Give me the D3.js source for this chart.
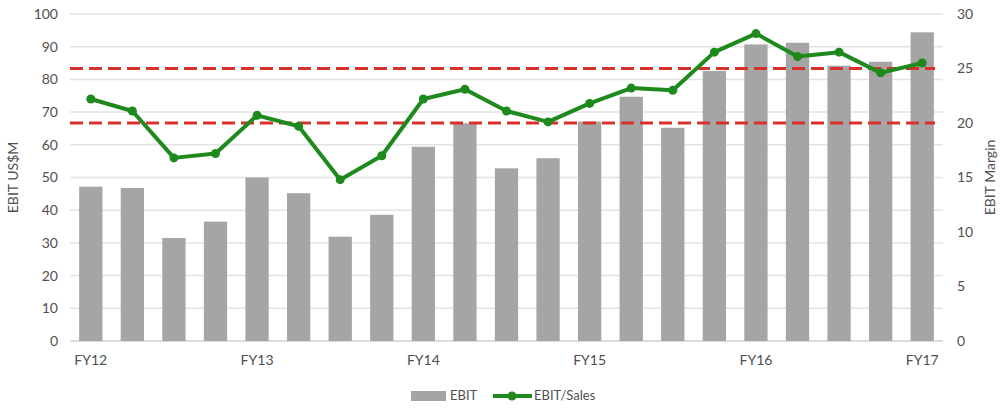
<!DOCTYPE html>
<html>
	<head>
		<meta charset="utf-8"/>
		<script type="text/javascript" src="https://cdn.jsdelivr.net/npm/d3@7/dist/d3.min.js"></script>
		<style>
			body { margin:0; background:#fff; }
			text { font-family: Lato, "Open Sans", sans-serif; fill:#505050; }
			.tick text { font-size:14px; }
			.axis-title { font-size:14px; }
			.legend text { font-size:13px; }
		</style>
	</head>
	<body>
		<script>
			var periods = d3.range(21);
			var periodLabels = ["FY12","","","","FY13","","","","FY14","","","","FY15","","","","FY16","","","","FY17"];
			var ebit = [47.2, 46.8, 31.5, 36.5, 50.0, 45.2, 31.9, 38.6, 59.4, 66.6, 52.8,
				55.9, 67.1, 74.7, 65.2, 82.6, 90.7, 91.2, 84.2, 85.4, 94.4];
			var margin = [22.2, 21.1, 16.8, 17.2, 20.7, 19.7, 14.8, 17.0, 22.2, 23.1, 21.1,
				20.1, 21.8, 23.2, 23.0, 26.5, 28.2, 26.1, 26.5, 24.6, 25.5];
			var targets = [25, 20];
			var leftTicks = d3.range(0, 101, 10);
			var rightTicks = d3.range(0, 31, 5);

			var width = 1000, height = 409;
			var plotLeft = 70, plotRight = 943, plotTop = 14, plotBottom = 341;

			var svg = d3.select("body").append("svg")
				.attr("width", width)
				.attr("height", height);

			var x = d3.scaleBand().domain(periods).range([plotLeft, plotRight]).paddingInner(0.44).paddingOuter(0.22);
			var yL = d3.scaleLinear().domain([0, 100]).range([plotBottom, plotTop]);
			var yR = d3.scaleLinear().domain([0, 30]).range([plotBottom, plotTop]);

			// gridlines
			svg.append("g")
				.selectAll("line").data(leftTicks).join("line")
				.attr("x1", plotLeft).attr("x2", plotRight)
				.attr("y1", d => yL(d)).attr("y2", d => yL(d))
				.attr("stroke", d => d == 0 ? "#d0d0d0" : "#e3e3e3")
				.attr("stroke-width", 1.5);

			var gl = svg.append("g")
				.attr("transform", "translate(" + (plotLeft - 8) + ",0)")
				.call(d3.axisLeft(yL).tickValues(leftTicks).tickSize(0).tickPadding(4));
			gl.select(".domain").remove();

			var gr = svg.append("g")
				.attr("transform", "translate(" + (plotRight + 10) + ",0)")
				.call(d3.axisRight(yR).tickValues(rightTicks).tickSize(0).tickPadding(4));
			gr.select(".domain").remove();

			var gx = svg.append("g")
				.attr("transform", "translate(0," + (plotBottom + 10) + ")")
				.call(d3.axisBottom(x).tickFormat(i => periodLabels[i]).tickSize(0).tickPadding(4));
			gx.select(".domain").remove();
			gx.selectAll("text").attr("font-size", 13);

			// bars
			svg.append("g")
				.selectAll("rect").data(ebit).join("rect")
				.attr("x", (d, i) => x(i))
				.attr("width", x.bandwidth())
				.attr("y", d => yL(d))
				.attr("height", d => yL(0) - yL(d))
				.attr("fill", "#a5a5a5");

			// target lines
			svg.append("g")
				.selectAll("line").data(targets).join("line")
				.attr("x1", plotLeft).attr("x2", plotRight - 8)
				.attr("y1", d => yR(d)).attr("y2", d => yR(d))
				.attr("stroke", "#d9302c")
				.attr("stroke-width", 3)
				.attr("stroke-dasharray", "13,6");

			// margin line
			var line = d3.line().x((d, i) => x(i) + x.bandwidth() / 2).y(d => yR(d));
			svg.append("path")
				.datum(margin)
				.attr("d", line)
				.attr("fill", "none")
				.attr("stroke", "#1e8a1e")
				.attr("stroke-width", 4)
				.attr("stroke-linejoin", "round");
			svg.append("g")
				.selectAll("circle").data(margin).join("circle")
				.attr("cx", (d, i) => x(i) + x.bandwidth() / 2)
				.attr("cy", d => yR(d))
				.attr("r", 4.5)
				.attr("fill", "#1e8a1e");

			// axis titles
			svg.append("text")
				.attr("class", "axis-title")
				.attr("transform", "translate(18," + ((plotTop + plotBottom) / 2) + ") rotate(-90)")
				.attr("text-anchor", "middle")
				.text("EBIT US$M");
			svg.append("text")
				.attr("class", "axis-title")
				.attr("transform", "translate(995," + ((plotTop + plotBottom) / 2) + ") rotate(-90)")
				.attr("text-anchor", "middle")
				.text("EBIT Margin");

			// legend
			var lg = svg.append("g").attr("class", "legend");
			lg.append("rect").attr("x", 411).attr("y", 391).attr("width", 35).attr("height", 10).attr("fill", "#a5a5a5");
			lg.append("text").attr("x", 450).attr("y", 400).text("EBIT");
			lg.append("line").attr("x1", 493).attr("x2", 532).attr("y1", 396).attr("y2", 396)
				.attr("stroke", "#1e8a1e").attr("stroke-width", 4);
			lg.append("circle").attr("cx", 512).attr("cy", 396).attr("r", 4.5).attr("fill", "#1e8a1e");
			lg.append("text").attr("x", 534).attr("y", 400).text("EBIT/Sales");
		</script>
	</body>
</html>
